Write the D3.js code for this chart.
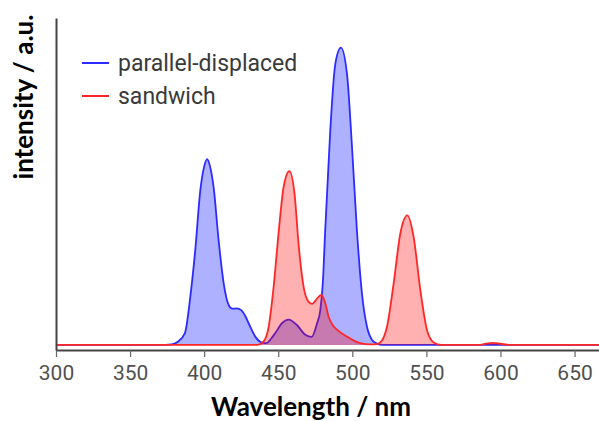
<!DOCTYPE html>
<html>
<head>
<meta charset="utf-8">
<script src="https://cdn.jsdelivr.net/npm/d3@7"></script>
<style>
  html, body { margin: 0; padding: 0; background: #fff; }
  svg { display: block; }
</style>
</head>
<body>
<div id="chart"></div>
<script>
// parallel-displaced spectrum
const blueNm = [300, 370, 378, 382, 387, 390.6, 394, 397.4, 400, 402, 404, 406.4, 409.8, 413.1, 416.5, 419, 422, 425, 428, 430, 434.5, 439, 442, 445, 448, 452.5, 457, 462.6, 468.3, 472.5, 476.2, 478.4, 480.1, 481.7, 485.1, 488.5, 492.3, 496.4, 499.8, 503.1, 506.5, 509.9, 513.3, 516.6, 520, 667];
const blueVal = [0, 0, 0.002, 0.01, 0.04, 0.16, 0.32, 0.52, 0.6, 0.625, 0.6, 0.53, 0.35, 0.21, 0.135, 0.122, 0.123, 0.117, 0.095, 0.073, 0.028, 0.008, 0.006, 0.02, 0.04, 0.073, 0.085, 0.067, 0.034, 0.027, 0.073, 0.117, 0.21, 0.386, 0.72, 0.945, 1.0, 0.912, 0.665, 0.386, 0.173, 0.061, 0.017, 0.005, 0, 0];

// sandwich spectrum
const redNm = [300, 436, 440, 443.5, 446.9, 450.2, 453.6, 457.5, 461, 463.7, 467.1, 470.5, 473, 476, 479, 481.5, 484, 487, 490, 496.4, 502, 506, 512, 516.6, 520, 523.4, 527.9, 532.4, 537.1, 541.4, 545.9, 550.4, 554.9, 560, 585, 590, 595, 600, 606, 667];
const redVal = [0, 0, 0.011, 0.06, 0.196, 0.375, 0.531, 0.585, 0.509, 0.341, 0.196, 0.145, 0.138, 0.155, 0.168, 0.145, 0.095, 0.065, 0.05, 0.028, 0.012, 0.005, 0.002, 0.003, 0.015, 0.061, 0.207, 0.375, 0.436, 0.363, 0.185, 0.05, 0.008, 0, 0, 0.004, 0.007, 0.004, 0, 0];

const xTicks = [300, 350, 400, 450, 500, 550, 600, 650];
const seriesNames = ["parallel-displaced", "sandwich"];

const W = 599, H = 421;
const margin = {left: 56, right: 0, top: 18, bottom: 71};

const svg = d3.select("#chart").append("svg")
  .attr("width", W)
  .attr("height", H);

const x = d3.scaleLinear().domain([300, 666.5]).range([margin.left, W - margin.right]);
const y = d3.scaleLinear().domain([-0.017, 1.1]).range([H - margin.bottom, margin.top]);

const toPoints = (nm, val) => nm.map((d, i) => [d, val[i]]);

const area = d3.area()
  .x(d => x(d[0]))
  .y0(y(0))
  .y1(d => y(d[1]))
  .curve(d3.curveMonotoneX);

const line = d3.line()
  .x(d => x(d[0]))
  .y(d => y(d[1]))
  .curve(d3.curveMonotoneX);

const series = [
  {name: seriesNames[0], pts: toPoints(blueNm, blueVal), stroke: "#2b2bff", fill: "rgba(40,50,255,0.38)"},
  {name: seriesNames[1], pts: toPoints(redNm, redVal), stroke: "#ff2626", fill: "rgba(255,0,0,0.31)"}
];

// blue first, red on top (overlap gives the purple)
series.forEach(s => {
  svg.append("path")
    .attr("d", area(s.pts))
    .attr("fill", s.fill);
  svg.append("path")
    .attr("d", line(s.pts))
    .attr("fill", "none")
    .attr("stroke", s.stroke)
    .attr("stroke-width", 1.8);
});

// axes
const xAxis = svg.append("g")
  .attr("transform", `translate(0,${H - margin.bottom})`)
  .call(d3.axisBottom(x).tickValues(xTicks).tickSize(7).tickSizeOuter(0).tickPadding(8));
xAxis.select(".domain").attr("stroke", "#444").attr("stroke-width", 2);
xAxis.selectAll(".tick line").attr("stroke", "#666").attr("stroke-width", 1.2);
xAxis.selectAll(".tick text")
  .attr("fill", "#505050")
  .style("font-family", "Roboto, sans-serif")
  .style("font-size", "21px");

const yAxis = svg.append("g")
  .attr("transform", `translate(${margin.left},0)`)
  .call(d3.axisLeft(y).tickValues([]).tickSizeOuter(0));
yAxis.select(".domain").attr("stroke", "#444").attr("stroke-width", 2);

// axis titles
svg.append("text")
  .attr("x", 311)
  .attr("y", 416)
  .attr("text-anchor", "middle")
  .style("font-family", "Lato, sans-serif")
  .style("font-weight", "bold")
  .style("font-size", "26px")
  .attr("fill", "#000")
  .text("Wavelength / nm");

svg.append("text")
  .attr("transform", "translate(33,97) rotate(-90)")
  .attr("text-anchor", "middle")
  .style("font-family", "Lato, sans-serif")
  .style("font-weight", "bold")
  .style("font-size", "26px")
  .attr("fill", "#000")
  .text("intensity / a.u.");

// legend
const legend = svg.append("g").attr("transform", "translate(82,63)");
series.forEach((s, i) => {
  const g = legend.append("g").attr("transform", `translate(0,${i * 33})`);
  g.append("line")
    .attr("x1", 0).attr("x2", 27)
    .attr("stroke", s.stroke)
    .attr("stroke-width", 2);
  g.append("text")
    .attr("x", 36)
    .attr("y", 8)
    .attr("fill", "#3a3a3a")
    .style("font-family", "Roboto, sans-serif")
    .style("font-size", "23px")
    .text(s.name);
});
</script>
</body>
</html>
